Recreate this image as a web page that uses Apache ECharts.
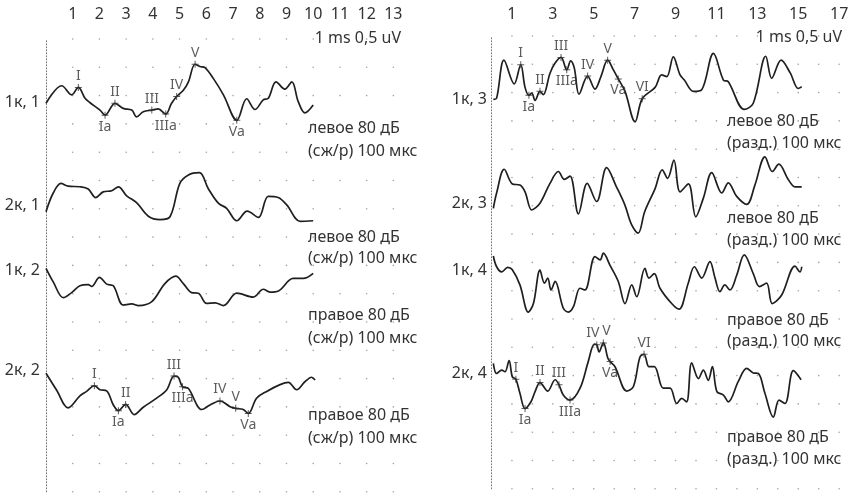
<!DOCTYPE html>
<html><head><meta charset="utf-8">
<script src="https://cdn.jsdelivr.net/npm/echarts@6/dist/echarts.min.js"></script>
<style>html,body{margin:0;padding:0;background:#fff}#c{width:855px;height:496px}</style>
</head><body><div id="c"></div>
<script>
// ---- tick labels (ms) ----
const leftTickLabels = ['1','2','3','4','5','6','7','8','9','10','11','12','13'];
const rightTickLabels = ['1','3','5','7','9','11','13','15','17'];
const scaleText = '1 ms 0,5 uV';

// ---- traces: [time ms, amplitude uV relative to trace start] ----
const trace_1k1 = [[0,0],[0.59,0.31],[0.96,0.15],[1.21,0.28],[1.46,0.09],[1.65,0.01],[2.02,-0.12],[2.21,-0.21],[2.58,0],[2.89,-0.09],[3.21,-0.12],[3.39,-0.24],[3.64,-0.15],[3.96,-0.12],[4.20,-0.10],[4.48,-0.19],[4.70,0],[4.89,0.12],[5.14,0.23],[5.33,0.38],[5.58,0.69],[5.76,0.65],[5.95,0.63],[6.26,0.44],[6.64,0.15],[7.14,-0.30],[7.51,0.08],[7.82,-0.11],[8.13,0.06],[8.32,0.09],[8.61,0.38],[8.94,0.25],[9.20,0.38],[9.44,0.03],[9.69,-0.17],[10.0,-0.03]];
const trace_2k1 = [[0,0],[0.27,0.33],[0.56,0.50],[0.83,0.45],[1.27,0.44],[1.58,0.40],[1.86,0.25],[2.14,0.35],[2.46,0.37],[2.71,0.44],[3.02,0.28],[3.39,0.16],[3.83,-0.08],[4.27,-0.14],[4.64,-0.09],[5.01,0.50],[5.33,0.65],[5.74,0.69],[6.07,0.41],[6.45,0.15],[6.76,0.06],[7.14,-0.16],[7.53,0.01],[7.95,-0.10],[8.32,0.27],[8.69,0.25],[9.01,0.12],[9.51,-0.17],[10.0,-0.16]];
const trace_1k2 = [[0,0],[0.27,-0.24],[0.65,-0.52],[0.96,-0.43],[1.27,-0.31],[1.58,-0.29],[1.71,-0.32],[2.0,-0.16],[2.27,-0.28],[2.52,-0.31],[2.89,-0.65],[3.21,-0.63],[3.46,-0.66],[3.96,-0.59],[4.45,-0.27],[4.86,-0.14],[5.14,-0.27],[5.45,-0.43],[5.70,-0.44],[6.01,-0.62],[6.33,-0.61],[6.64,-0.66],[7.14,-0.44],[7.76,-0.51],[8.13,-0.37],[8.38,-0.42],[8.70,-0.40],[9.25,-0.18],[9.63,-0.18],[10.0,-0.09]];
const trace_2k2 = [[0,0],[0.40,-0.30],[0.83,-0.61],[1.27,-0.40],[1.52,-0.32],[1.81,-0.22],[2.02,-0.29],[2.27,-0.31],[2.52,-0.56],[2.71,-0.66],[2.98,-0.55],[3.30,-0.73],[3.64,-0.60],[4.14,-0.44],[4.52,-0.29],[4.79,-0.05],[4.95,-0.07],[5.11,-0.24],[5.33,-0.27],[5.83,-0.64],[6.14,-0.56],[6.51,-0.49],[6.89,-0.59],[7.10,-0.62],[7.38,-0.64],[7.57,-0.71],[7.88,-0.44],[8.26,-0.32],[8.76,-0.20],[9.07,-0.16],[9.38,-0.29],[9.69,-0.15],[9.94,-0.07],[10.07,-0.12]];
const trace_1k3 = [[0.09,0],[0.25,0.02],[0.61,0.69],[1.11,0.27],[1.43,0.61],[1.64,0.21],[1.83,0.07],[1.97,0.11],[2.13,-0.02],[2.37,0.14],[2.53,0.08],[2.86,0.46],[3.11,0.64],[3.40,0.74],[3.68,0.52],[3.87,0.68],[4.05,0.55],[4.28,0.09],[4.70,0.41],[5.06,0.18],[5.35,0.40],[5.68,0.69],[5.96,0.52],[6.20,0.36],[6.53,0.14],[7.02,-0.40],[7.37,0.01],[8.0,0.21],[8.32,0.43],[8.57,0.40],[8.89,0.75],[9.22,0.43],[9.43,0.34],[9.87,0.14],[10.28,0.17],[10.85,0.81],[11.34,0.34],[11.58,0.31],[12.36,-0.18],[12.80,-0.07],[13.41,0.76],[13.70,0.37],[14.16,0.69],[14.60,0.47],[15.00,0.19],[15.17,0.22]];
const trace_2k3 = [[0.09,0],[0.25,0.27],[0.62,0.69],[1.02,0.43],[1.39,0.41],[1.64,0.29],[1.97,-0.03],[2.37,0.09],[2.86,0.44],[3.27,0.65],[3.56,0.51],[3.84,0.57],[4.25,-0.10],[4.68,0.44],[5.14,0.12],[5.63,0.72],[6.11,0.38],[6.52,0.06],[6.85,-0.29],[7.17,-0.44],[7.49,-0.06],[7.99,0.34],[8.35,0.68],[8.61,0.53],[8.92,0.85],[9.22,0.29],[9.63,0.43],[9.99,-0.15],[10.36,0.18],[10.77,0.63],[11.26,0.27],[11.58,0.45],[11.99,0.21],[12.48,0.07],[12.88,0.41],[13.37,0.91],[13.73,0.65],[14.05,0.78],[14.51,0.51],[14.84,0.38],[15.17,0.38]];
const trace_1k4 = [[0.09,0],[0.25,-0.19],[0.50,-0.28],[0.79,-0.20],[1.01,-0.24],[1.39,-0.51],[1.80,-0.99],[2.05,-0.84],[2.37,-0.25],[2.59,-0.48],[2.75,-0.39],[2.91,-0.60],[3.11,-0.45],[3.51,-0.92],[3.76,-0.99],[4.0,-0.90],[4.33,-0.57],[4.57,-0.60],[5.06,-0.01],[5.31,-0.07],[5.47,0.05],[5.79,-0.16],[6.20,-0.45],[6.53,-0.84],[6.86,-0.51],[7.10,-0.72],[7.50,-0.22],[7.70,-0.39],[7.96,-0.31],[8.24,-0.57],[8.81,-0.84],[9.17,-0.94],[9.62,-0.48],[9.92,-0.19],[10.28,-0.39],[10.68,-0.10],[10.93,-0.39],[11.17,-0.63],[11.41,-0.51],[11.66,-0.60],[11.99,-0.34],[12.36,0.02],[12.80,-0.31],[13.10,-0.54],[13.45,-0.48],[13.73,-0.84],[14.19,-0.69],[14.84,-0.18],[15.09,-0.28],[15.17,-0.19]];
const trace_2k4 = [[0.09,0],[0.25,-0.18],[0.50,-0.12],[0.66,-0.15],[0.86,0.05],[1.02,-0.24],[1.19,-0.28],[1.39,-0.53],[1.64,-0.80],[1.93,-0.68],[2.13,-0.50],[2.37,-0.34],[2.75,-0.49],[3.11,-0.29],[3.30,-0.38],[3.51,-0.56],[3.84,-0.65],[4.33,-0.44],[4.73,0.03],[5.03,0.34],[5.15,0.33],[5.26,0.20],[5.47,0.36],[5.69,0.09],[5.80,0.03],[6.04,-0.06],[6.61,-0.49],[6.94,-0.41],[7.26,0.11],[7.46,0.16],[7.70,-0.06],[7.96,-0.06],[8.40,-0.44],[8.73,-0.44],[9.06,-0.71],[9.30,-0.62],[9.54,-0.68],[9.79,0.01],[10.12,-0.27],[10.36,-0.12],[10.60,-0.30],[10.80,-0.06],[11.02,-0.50],[11.34,-0.56],[11.58,-0.68],[12.07,-0.32],[12.48,-0.09],[12.80,-0.17],[13.05,-0.18],[13.37,-0.53],[13.78,-0.95],[14.06,-0.65],[14.35,-0.71],[14.76,-0.13],[15.14,-0.29]];

// ---- wave peaks: [name, latency ms] ----
const peaks_1k1 = [['I',1.21],['Ia',2.21],['II',2.58],['III',3.96],['IIIa',4.48],['IV',4.89],['V',5.58],['Va',7.14]];
const peaks_2k2 = [['I',1.81],['Ia',2.71],['II',2.98],['III',4.79],['IIIa',5.11],['IV',6.51],['V',7.10],['Va',7.57]];
const peaks_1k3 = [['I',1.43],['Ia',1.83],['II',2.37],['III',3.40],['IIIa',3.68],['IV',4.70],['V',5.68],['Va',6.20],['VI',7.37]];
const peaks_2k4 = [['I',1.19],['Ia',1.64],['II',2.37],['III',3.30],['IIIa',3.84],['IV',5.15],['V',5.47],['Va',5.80],['VI',7.46]];

// ---- captions ----
const captionsLeft = [['левое 80 дБ','(сж/р) 100 мкс'],['левое 80 дБ','(сж/р) 100 мкс'],['правое 80 дБ','(сж/р) 100 мкс'],['правое 80 дБ','(сж/р) 100 мкс']];
const captionsRight = [['левое 80 дБ','(разд.) 100 мкс'],['левое 80 дБ','(разд.) 100 мкс'],['правое 80 дБ','(разд.) 100 мкс'],['правое 80 дБ','(разд.) 100 мкс']];

const traces = [
  {name:'1к, 1', data:trace_1k1, peaks:peaks_1k1, panel:0},
  {name:'2к, 1', data:trace_2k1, peaks:[], panel:0},
  {name:'1к, 2', data:trace_1k2, peaks:[], panel:0},
  {name:'2к, 2', data:trace_2k2, peaks:peaks_2k2, panel:0},
  {name:'1к, 3', data:trace_1k3, peaks:peaks_1k3, panel:1},
  {name:'2к, 3', data:trace_2k3, peaks:[], panel:1},
  {name:'1к, 4', data:trace_1k4, peaks:[], panel:1},
  {name:'2к, 4', data:trace_2k4, peaks:peaks_2k4, panel:1}
];

// ---- layout (positions / styles) ----
const FONT = '"Noto Sans", sans-serif';
const TXT = '#333';
const traceOffset = [-1.136,-3.051,-4.051,-5.906,-1.118,-3.044,-3.887,-5.783]; // uV on stacked axis
const traceLabelY = [102,205,270,370,99,203,270,373];
const captionY = [[128,151],[237,258],[315,338],[415,438],[121,143],[218,240],[320,341],[437,459]];
const labelNudge = {'2к, 4|IV':[-4,0],'2к, 4|V':[3,0]};

const grids = [
  {left:46, top:39, width:13*26.72, height:452.8},
  {left:491.5, top:36, width:17*20.45, height:452.8}
];
const xMax = [13,17];

const chart = echarts.init(document.getElementById('c'), null, {renderer:'canvas'});

const plus = 'path://M3,0H4V3H7V4H4V7H3V4H0V3H3Z';
const series = [];
// grid dots
[0,1].forEach(p => {
  const pts = [];
  for (let t = 1; t <= xMax[p]; t++) for (let k = 0; k <= 16; k++) pts.push([t, -0.5*k]);
  series.push({type:'scatter', xAxisIndex:p, yAxisIndex:p, data:pts, symbolSize:1.6, silent:true,
    itemStyle:{color:'#8a8a8a'}, z:1});
});
traces.forEach((tr, i) => {
  const off = traceOffset[i];
  series.push({type:'line', name:tr.name, xAxisIndex:tr.panel, yAxisIndex:tr.panel,
    data:tr.data.map(d => [d[0], d[1]+off]), smooth:0.35, symbol:'none', silent:true,
    lineStyle:{color:'#1f1f1f', width:1.7}, z:3});
  if (tr.peaks.length) {
    const pk = tr.peaks.map(([nm, lat]) => {
      let best = tr.data[0];
      tr.data.forEach(d => { if (Math.abs(d[0]-lat) < Math.abs(best[0]-lat)) best = d; });
      const below = /a$/.test(nm);
      return {name:nm, value:[best[0], best[1]+off],
        label:{position: below ? 'bottom':'top', offset: labelNudge[tr.name+'|'+nm] || [0,0]}};
    });
    series.push({type:'scatter', xAxisIndex:tr.panel, yAxisIndex:tr.panel, data:pk, symbol:plus,
      symbolSize:7, silent:true, itemStyle:{color:'#333'}, z:4,
      label:{show:true, formatter:'{b}', fontFamily:FONT, fontSize:14, color:TXT, distance:1}});
  }
});

const graphics = [];
traces.forEach((tr, i) => {
  graphics.push({type:'text', silent:true, style:{text:tr.name, x: tr.panel ? 487 : 40, y: traceLabelY[i],
    font:'16px '+FONT, fill:TXT, align:'right', verticalAlign:'middle', textAlign:'right', textVerticalAlign:'middle'}});
  const cap = (tr.panel ? captionsRight : captionsLeft)[i % 4];
  cap.forEach((line, j) => graphics.push({type:'text', silent:true, style:{text:line, x: tr.panel ? 727 : 308,
    y: captionY[i][j], font:'16px '+FONT, fill:TXT, align:'left', verticalAlign:'middle', textAlign:'left', textVerticalAlign:'middle'}}));
});
graphics.push({type:'text', silent:true, style:{text:scaleText, x:401, y:38, font:'16px '+FONT, fill:TXT, align:'right', verticalAlign:'middle', textAlign:'right', textVerticalAlign:'middle'}});
graphics.push({type:'text', silent:true, style:{text:scaleText, x:842, y:37, font:'16px '+FONT, fill:TXT, align:'right', verticalAlign:'middle', textAlign:'right', textVerticalAlign:'middle'}});

const mkX = (p, labels, margin) => ({gridIndex:p, type:'value', position:'top', min:0, max:xMax[p], interval:1,
  axisLine:{show:false}, axisTick:{show:false}, splitLine:{show:false},
  axisLabel:{show:true, margin, fontFamily:FONT, fontSize:16, color:TXT, hideOverlap:false,
    formatter: v => labels.includes(String(v)) ? String(v) : ''}});
const mkY = p => ({gridIndex:p, type:'value', min:-8, max:0, interval:0.5,
  axisLine:{show:true, lineStyle:{color:'#777', type:[1,2], width:1}}, axisTick:{show:false},
  axisLabel:{show:false}, splitLine:{show:false}});

chart.setOption({
  animation:false,
  backgroundColor:'#fff',
  grid: grids.map(g => Object.assign({containLabel:false}, g)),
  xAxis:[mkX(0, leftTickLabels, 17), mkX(1, rightTickLabels, 14)],
  yAxis:[mkY(0), mkY(1)],
  series,
  graphic:{elements:graphics}
});
</script>
</body></html>
